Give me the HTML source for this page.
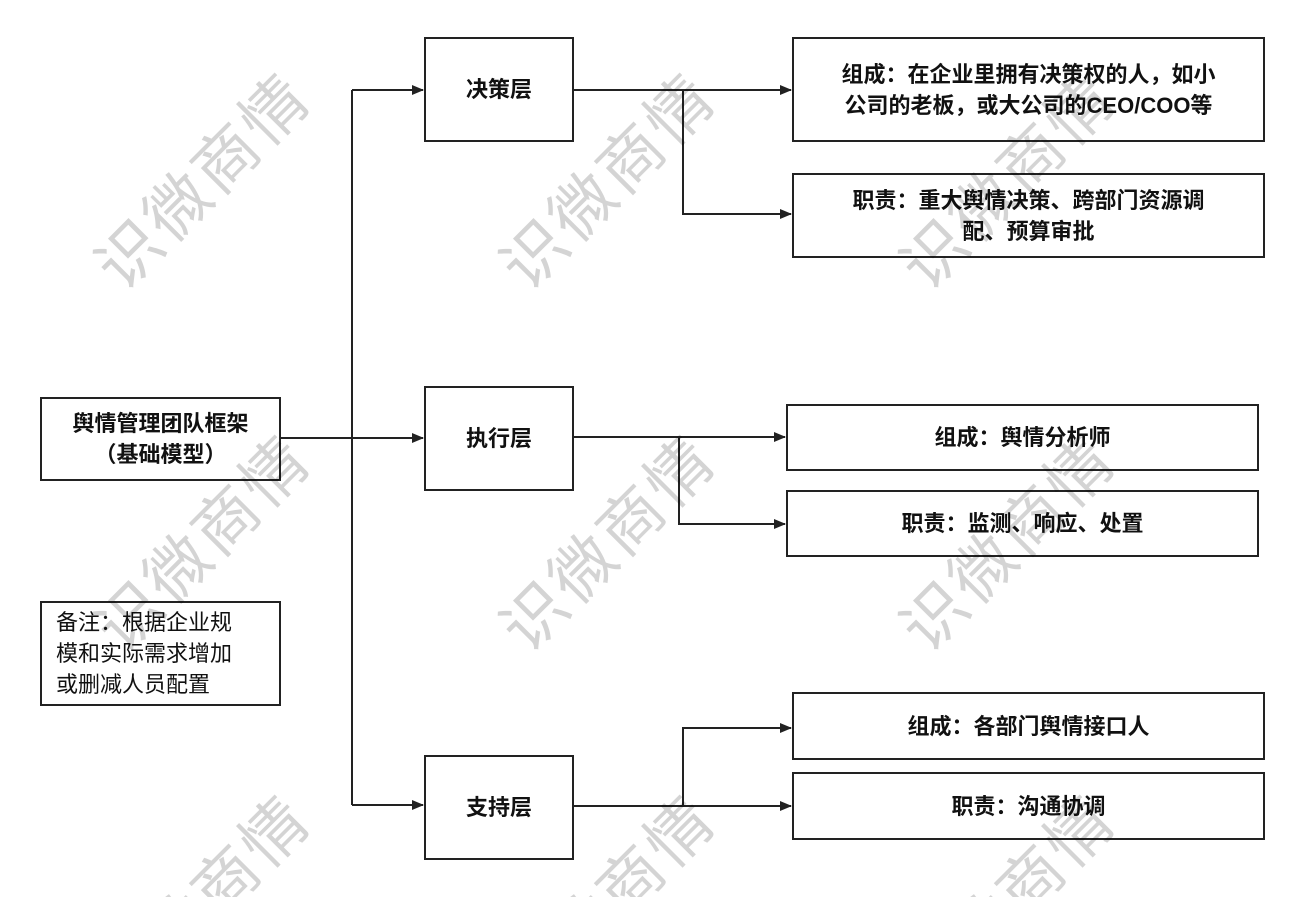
<!DOCTYPE html>
<html style="overflow:hidden;width:1302px;height:897px"><head><meta charset="utf-8"><style>
body{margin:0;width:1302px;height:897px;background:#fff;position:relative;overflow:hidden;font-family:"Liberation Sans","Noto Sans CJK SC",sans-serif;}
.b{position:absolute;box-sizing:border-box;border:2px solid #222;background:#fff;display:flex;align-items:center;justify-content:center;text-align:center;font-size:22px;line-height:31px;color:#111;font-weight:bold;}
svg{position:absolute;left:0;top:0}
#w{pointer-events:none}
#w text{font-size:64px;fill:rgba(0,0,0,0.17);font-family:"Noto Sans CJK SC",sans-serif;letter-spacing:4px;text-anchor:middle;dominant-baseline:central}
</style></head><body>
<svg width="1302" height="897">
<defs><marker id="a" markerWidth="12" markerHeight="10" refX="11" refY="5" orient="auto" markerUnits="userSpaceOnUse"><path d="M0,0L12,5L0,10z" fill="#222"/></marker></defs>
<g stroke="#222" stroke-width="2" fill="none">
<path d="M281,438H352"/>
<path d="M352,90V805"/>
<path d="M352,90H423" marker-end="url(#a)"/>
<path d="M352,438H423" marker-end="url(#a)"/>
<path d="M352,805H423" marker-end="url(#a)"/>
<path d="M574,90H791" marker-end="url(#a)"/>
<path d="M683,90V214H791" marker-end="url(#a)"/>
<path d="M574,437H785" marker-end="url(#a)"/>
<path d="M679,437V524H785" marker-end="url(#a)"/>
<path d="M574,806H791" marker-end="url(#a)"/>
<path d="M683,806V728H791" marker-end="url(#a)"/>
</g></svg>
<div class="b" style="left:40px;top:397px;width:241px;height:84px">舆情管理团队框架<br>（基础模型）</div>
<div class="b" style="left:40px;top:601px;width:241px;height:105px;font-weight:normal;text-align:left;justify-content:flex-start;padding-left:14px">备注：根据企业规<br>模和实际需求增加<br>或删减人员配置</div>
<div class="b" style="left:424px;top:37px;width:150px;height:105px">决策层</div>
<div class="b" style="left:424px;top:386px;width:150px;height:105px">执行层</div>
<div class="b" style="left:424px;top:755px;width:150px;height:105px">支持层</div>
<div class="b" style="left:792px;top:37px;width:473px;height:105px">组成：在企业里拥有决策权的人，如小<br>公司的老板，或大公司的CEO/COO等</div>
<div class="b" style="left:792px;top:173px;width:473px;height:85px">职责：重大舆情决策、跨部门资源调<br>配、预算审批</div>
<div class="b" style="left:786px;top:404px;width:473px;height:67px">组成：舆情分析师</div>
<div class="b" style="left:786px;top:490px;width:473px;height:67px">职责：监测、响应、处置</div>
<div class="b" style="left:792px;top:692px;width:473px;height:68px">组成：各部门舆情接口人</div>
<div class="b" style="left:792px;top:772px;width:473px;height:68px">职责：沟通协调</div>
<svg id="w" width="1302" height="897">
<text transform="translate(200,178) rotate(-45)">识微商情</text>
<text transform="translate(605,178) rotate(-45)">识微商情</text>
<text transform="translate(1005,178) rotate(-45)">识微商情</text>
<text transform="translate(200,540) rotate(-45)">识微商情</text>
<text transform="translate(605,540) rotate(-45)">识微商情</text>
<text transform="translate(1005,540) rotate(-45)">识微商情</text>
<text transform="translate(200,900) rotate(-45)">识微商情</text>
<text transform="translate(605,900) rotate(-45)">识微商情</text>
<text transform="translate(1005,900) rotate(-45)">识微商情</text>
</svg>
</body></html>
